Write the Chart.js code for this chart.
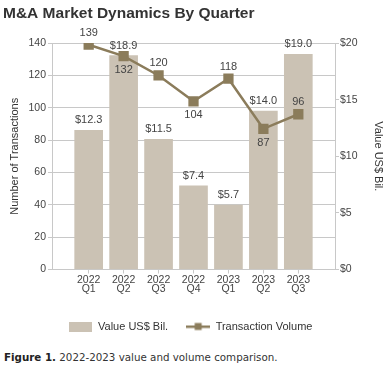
<!DOCTYPE html>
<html>
<head>
<meta charset="utf-8">
<script src="https://cdn.jsdelivr.net/npm/chart.js@4"></script>
<style>
  body { margin: 0; background: #fff; }
  .wrap { position: relative; width: 390px; height: 342px; }
  .caption { font-family: "DejaVu Sans", Verdana, sans-serif; font-size: 10.3px; color: #333; margin: 9px 0 0 4px; }
  .caption b { color: #222; }
</style>
</head>
<body>
<div class="wrap"><canvas id="chart"></canvas></div>
<div class="caption"><b>Figure 1.</b> 2022-2023 value and volume comparison.</div>

<script>
const quarters = [["2022", "Q1"], ["2022", "Q2"], ["2022", "Q3"], ["2022", "Q4"], ["2023", "Q1"], ["2023", "Q2"], ["2023", "Q3"]];
const valueBn = [12.3, 18.9, 11.5, 7.4, 5.7, 14.0, 19.0];
const volume = [139, 132, 120, 104, 118, 87, 96];
const volumeTicks = [0, 20, 40, 60, 80, 100, 120, 140];
const valueTicks = [0, 5, 10, 15, 20];

const BAR = "#cbc2b4";
const LINE = "#8b7c5b";
const GRID = "#c8c8c8";
const TEXT = "#444";
const FONT = '"Liberation Sans", Arial, sans-serif';

// legend swatches
function swatch(w, h, draw) {
  const c = document.createElement("canvas");
  c.width = w; c.height = h;
  draw(c.getContext("2d"));
  return c;
}
const barSwatch = swatch(23, 10, g => { g.fillStyle = BAR; g.fillRect(0, 0, 23, 10); });
const lineSwatch = swatch(24, 10, g => {
  g.fillStyle = LINE;
  g.fillRect(0, 4, 24, 2.5);
  g.fillRect(8.5, 1.5, 7, 7);
});

// value labels over bars / points
const valueLabels = {
  id: "valueLabels",
  afterLayout(chart) {
    // legend sits a little left of centre in the original
    chart.legend.left -= 6;
    chart.legend.right -= 6;
  },
  afterDatasetsDraw(chart) {
    const ctx = chart.ctx;
    ctx.save();
    ctx.font = "11px " + FONT;
    ctx.fillStyle = TEXT;
    ctx.textAlign = "center";
    ctx.textBaseline = "middle";
    chart.getDatasetMeta(0).data.forEach((bar, i) => {
      ctx.fillText("$" + valueBn[i].toFixed(1), bar.x, bar.y - 10);
    });
    const below = [false, true, false, true, false, true, false];
    chart.getDatasetMeta(1).data.forEach((pt, i) => {
      ctx.fillText(String(volume[i]), pt.x, pt.y + (below[i] ? 14 : -12));
    });
    ctx.restore();
  }
};

new Chart(document.getElementById("chart"), {
  type: "bar",
  data: {
    datasets: [
      {
        type: "bar",
        label: "Value US$ Bil.",
        data: valueBn.map((v, i) => ({ x: i, y: v })),
        backgroundColor: BAR,
        barThickness: 28,
        yAxisID: "y2",
        order: 1,
      },
      {
        type: "line",
        label: "Transaction Volume",
        data: volume.map((v, i) => ({ x: i, y: v })),
        borderColor: LINE,
        backgroundColor: LINE,
        borderWidth: 2.5,
        pointStyle: "rect",
        pointRadius: 5.5,
        pointHoverRadius: 5.5,
        tension: 0,
        yAxisID: "y",
        order: 0,
      },
    ],
  },
  options: {
    responsive: true,
    maintainAspectRatio: false,
    animation: false,
    layout: { padding: { left: 3, right: 0, top: 0, bottom: 0 } },
    plugins: {
      title: {
        display: true,
        text: "M&A Market Dynamics By Quarter",
        align: "start",
        color: "#333",
        font: { family: FONT, size: 15.5, weight: "bold" },
        padding: { top: 4, bottom: 20.5 },
      },
      legend: {
        position: "bottom",
        labels: {
          color: "#333",
          font: { family: FONT, size: 11 },
          usePointStyle: true,
          pointStyleWidth: 24,
          boxHeight: 10,
          padding: 18,
          generateLabels: () => [
            { text: "Value US$ Bil.", pointStyle: barSwatch, fontColor: "#333", lineWidth: 0, datasetIndex: 0, hidden: false },
            { text: "Transaction Volume", pointStyle: lineSwatch, fontColor: "#333", lineWidth: 0, datasetIndex: 1, hidden: false },
          ],
        },
      },
      tooltip: { enabled: false },
    },
    scales: {
      x: {
        type: "linear",
        offset: false,
        min: -1.05,
        max: 7.05,
        afterBuildTicks: s => { s.ticks = quarters.map((q, i) => ({ value: i })); },
        ticks: {
          callback: v => quarters[v],
          autoSkip: false,
          maxRotation: 0,
          color: TEXT,
          padding: 2,
          font: { family: FONT, size: 10.5, lineHeight: 0.88 },
        },
        grid: { offset: false, drawOnChartArea: false, tickLength: 4, color: GRID },
        border: { color: GRID },
        afterFit: s => { s.height += 7; },
      },
      y: {
        position: "left",
        min: 0,
        max: 140,
        afterBuildTicks: s => { s.ticks = volumeTicks.map(v => ({ value: v })); },
        ticks: { color: TEXT, padding: 2, font: { family: FONT, size: 10.5 } },
        grid: { color: GRID, tickLength: 4 },
        border: { color: GRID },
        title: { display: true, text: "Number of Transactions", color: "#333", font: { family: FONT, size: 11 }, padding: { top: 5 } },
        afterFit: s => { s.width = 49; },
      },
      y2: {
        position: "right",
        min: 0,
        max: 20,
        afterBuildTicks: s => { s.ticks = valueTicks.map(v => ({ value: v })); },
        ticks: { color: TEXT, padding: 1, font: { family: FONT, size: 10.5 }, callback: v => "$" + v },
        grid: { drawOnChartArea: false, tickLength: 4, color: GRID },
        border: { color: GRID },
        title: { display: true, text: "Value US$ Bil.", color: "#333", font: { family: FONT, size: 11 }, padding: { top: 5 } },
        afterFit: s => { s.width = 55; },
      },
    },
  },
  plugins: [valueLabels],
});
</script>
</body>
</html>
